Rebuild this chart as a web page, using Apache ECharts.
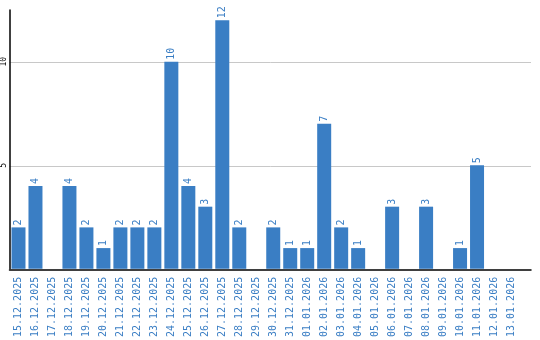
<!DOCTYPE html>
<html><head><meta charset="utf-8">
<script src="https://cdn.jsdelivr.net/npm/echarts@6/dist/echarts.min.js"></script>
<style>html,body{margin:0;padding:0;background:#fff}#c{width:540px;height:340px}</style>
</head><body><div id="c"></div>
<script>
const categories = ["15.12.2025","16.12.2025","17.12.2025","18.12.2025","19.12.2025","20.12.2025","21.12.2025","22.12.2025","23.12.2025","24.12.2025","25.12.2025","26.12.2025","27.12.2025","28.12.2025","29.12.2025","30.12.2025","31.12.2025","01.01.2026","02.01.2026","03.01.2026","04.01.2026","05.01.2026","06.01.2026","07.01.2026","08.01.2026","09.01.2026","10.01.2026","11.01.2026","12.01.2026","13.01.2026"];
const values = [2,4,0,4,2,1,2,2,2,10,4,3,12,2,0,2,1,1,7,2,1,0,3,0,3,0,1,5,0,0];
const yTicks = [5,10];

const blue = '#3a7ec4';
const chart = echarts.init(document.getElementById('c'));
chart.setOption({
  animation:false,
  grid:[
    {left:9.5,right:20.5,top:10,bottom:70,containLabel:false},
    {left:9.5,right:9,top:10,bottom:70,containLabel:false}
  ],
  xAxis:[
    {type:'category',data:categories,gridIndex:0,
      axisLine:{show:false},
      axisTick:{show:false},
      axisLabel:{rotate:90,margin:8,color:blue,fontFamily:'DejaVu Sans Mono',fontSize:10,interval:0}},
    {type:'value',gridIndex:1,min:0,max:1,
      axisLine:{show:true,lineStyle:{color:'#000',width:1.5}},
      axisTick:{show:false},axisLabel:{show:false},splitLine:{show:false}}
  ],
  yAxis:[
    {type:'value',gridIndex:0,min:0,max:12.5,interval:5,
      axisLine:{show:true,lineStyle:{color:'#000',width:1.5}},
      axisTick:{show:false},
      splitLine:{show:false},
      axisLabel:{rotate:90,margin:2,color:'#000',fontFamily:'DejaVu Sans Mono',fontSize:8,
        formatter:v=>yTicks.includes(v)?String(v):''}},
    {type:'value',gridIndex:1,min:0,max:12.5,interval:5,
      axisLine:{show:false},axisTick:{show:false},axisLabel:{show:false},
      splitLine:{lineStyle:{color:'#c8c8c8'},showMinLine:false,showMaxLine:false}}
  ],
  series:[{type:'bar',data:values,barWidth:14,xAxisIndex:0,yAxisIndex:0,z:3,
    itemStyle:{color:blue},
    label:{show:true,position:'top',rotate:90,align:'left',verticalAlign:'middle',distance:2,
      color:blue,fontFamily:'DejaVu Sans Mono',fontSize:10,
      formatter:p=>p.value?String(p.value):''}}]
});
</script></body></html>
